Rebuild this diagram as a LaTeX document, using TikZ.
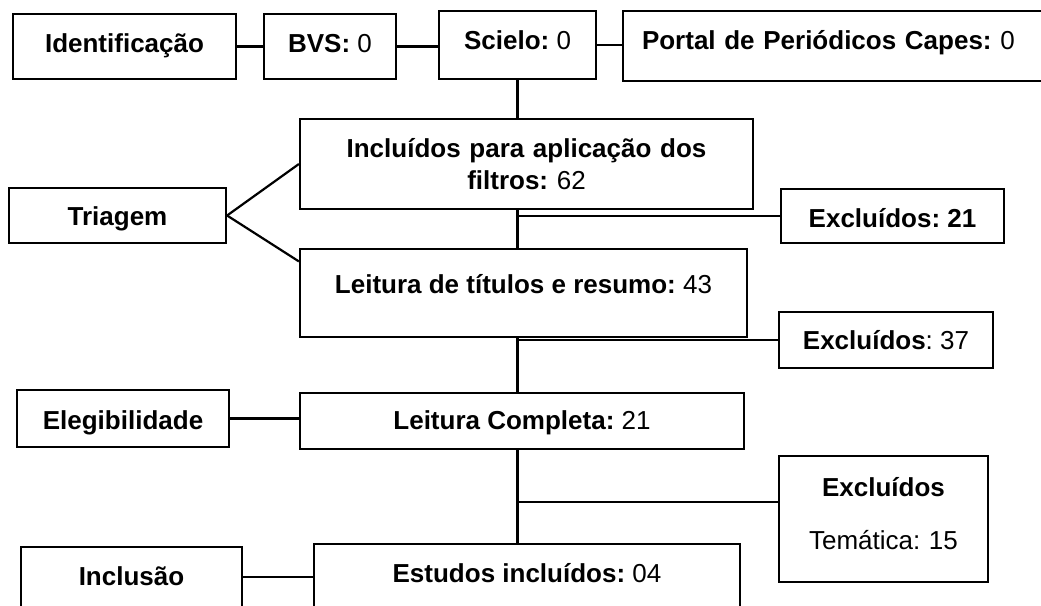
\documentclass[tikz,border=0pt]{standalone}
\usepackage{fontspec}
\setmainfont{Liberation Sans}
\frenchspacing
\begin{document}
\begin{tikzpicture}[x=1pt, y=-1pt,
	      	stage/.style={draw, line width=2.2pt, inner xsep=0pt, inner ysep=0pt, align=center, font=\fontsize{26}{32}\selectfont},
	      	conn/.style={line width=2.2pt}]
	          \useasboundingbox (0,0) rectangle (1041,605);
	          \node[stage, minimum width=223pt, text height=38pt, text depth=27pt] (ident) at (124.5,46.5) {\textbf{Identificação}};
	          \node[stage, minimum width=132pt, text height=38pt, text depth=27pt] (bvs) at (330,46.5) {\textbf{BVS:} 0};
	          \node[stage, minimum width=157pt, text height=38.5pt, text depth=29.5pt] (scielo) at (517.5,45) {\textbf{Scielo:} 0};
	          \node[stage, text width=403pt, inner xsep=19pt, align=left, text height=38.5pt, text depth=31.5pt] (portal) at (843.5,46) {\textbf{Portal de Periódicos Capes:} 0};
	          \node[stage, text width=453pt, text height=38.5pt, text depth=51.5pt] (incl) at (526.5,164) {\textbf{Incluídos para aplicação dos}\\\textbf{filtros:} 62};
	          \node[stage, minimum width=217pt, text height=37pt, text depth=18pt] (triagem) at (117.5,215.5) {\textbf{Triagem}};
	          \node[stage, minimum width=223pt, text height=38pt, text depth=16pt] (excl1) at (892.5,216) {\textbf{Excluídos: 21}};
	          \node[stage, minimum width=447pt, text height=44pt, text depth=44pt] (leit) at (523.5,293) {\textbf{Leitura de títulos e resumo:} 43};
	          \node[stage, minimum width=214pt, text height=37pt, text depth=19pt] (excl2) at (886,340) {\textbf{Excluídos}: 37};
	          \node[stage, minimum width=212pt, text height=39pt, text depth=18pt] (eleg) at (123,418.5) {\textbf{Elegibilidade}};
	          \node[stage, minimum width=444pt, text height=36pt, text depth=20pt] (lcomp) at (522,421) {\textbf{Leitura Completa:} 21};
	          \node[stage, text width=209pt, text height=40pt, text depth=86pt, font=\fontsize{26}{53}\selectfont] (excl3) at (883.5,519) {\textbf{Excluídos}\\Temática: 15};
	          \node[stage, minimum width=426pt, text height=38pt, text depth=28pt] (estudos) at (527,577) {\textbf{Estudos incluídos:} 04};
	          \node[stage, minimum width=221pt, text height=38pt, text depth=22pt] (inclusao) at (131.5,577) {\textbf{Inclusão}};
	          \draw[-, conn] (ident.east) -- (ident.east -| bvs.west);
	          \draw[-, conn] (bvs.east) -- (bvs.east -| scielo.west);
	          \draw[-, conn] (scielo.east) -- (scielo.east -| portal.west);
	          \draw[-, conn] (scielo.south) -- (scielo.south |- incl.north);
	          \draw[-, conn] (triagem.east) -- (incl.west);
	          \draw[-, conn] (triagem.east) -- (leit.172);
	          \draw[-, conn] (incl.south -| scielo.center) -- (leit.north -| scielo.center);
	          \draw[-, conn] (excl1.west -| scielo.center) -- (excl1.west);
	          \draw[-, conn] (leit.south -| scielo.center) -- (lcomp.north -| scielo.center);
	          \draw[-, conn] (excl2.west -| scielo.center) -- (excl2.west);
	          \draw[-, conn] (eleg.east) -- (eleg.east -| lcomp.west);
	          \draw[-, conn] (lcomp.south -| scielo.center) -- (estudos.north -| scielo.center);
	          \draw[-, conn] (excl3.171 -| scielo.center) -- (excl3.171);
	          \draw[-, conn] (inclusao.east) -- (estudos.west);
	      \end{tikzpicture}
\end{document}
